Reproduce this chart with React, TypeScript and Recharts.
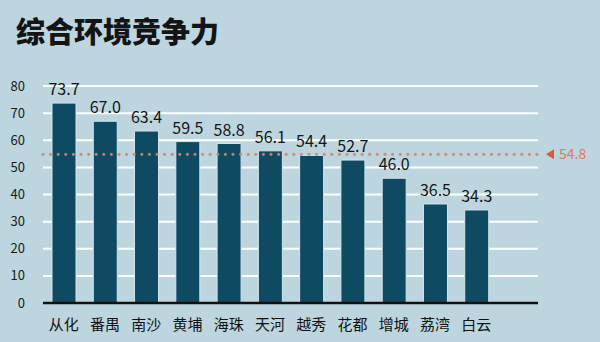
import { BarChart, Bar, XAxis, YAxis, CartesianGrid, ReferenceLine, LabelList } from 'recharts';

const districts = ['从化', '番禺', '南沙', '黄埔', '海珠', '天河', '越秀', '花都', '增城', '荔湾', '白云'];
const scores = [73.7, 67.0, 63.4, 59.5, 58.8, 56.1, 54.4, 52.7, 46.0, 36.5, 34.3];
const yTicks = [0, 10, 20, 30, 40, 50, 60, 70, 80];
const average = 54.8;

const data = districts.map((name, i) => ({ name, score: scores[i] }));

const FONT = '"Noto Sans CJK SC", "Noto Sans", sans-serif';

const AvgLabel = (props: any) => {
  const { viewBox } = props;
  const x = viewBox.x + viewBox.width;
  const y = viewBox.y;
  return (
    <g>
      <polygon points={`${x + 8},${y} ${x + 16},${y - 5} ${x + 16},${y + 5}`} fill="#e2553a" />
      <text x={x + 21} y={y} dy={5} fontSize={14} fill="#e07a5c" fontFamily={FONT}>
        {average}
      </text>
    </g>
  );
};

const App = () => {
  return (
    <div
      style={{
        position: 'absolute',
        left: 0,
        top: 0,
        width: 600,
        height: 342,
        background: '#bcd5df',
        fontFamily: FONT,
      }}
    >
      <div
        style={{
          position: 'absolute',
          left: 16,
          top: 9,
          fontSize: 29,
          fontWeight: 900,
          color: '#141414',
        }}
      >
        综合环境竞争力
      </div>
      <BarChart
        width={600}
        height={342}
        data={data}
        margin={{ top: 86, right: 62, bottom: 9, left: 0 }}
        barCategoryGap={0}
      >
        <CartesianGrid vertical={false} stroke="#ffffff" strokeWidth={2} />
        <XAxis
          dataKey="name"
          height={30}
          axisLine={{ stroke: '#111', strokeWidth: 2.5 }}
          tickLine={false}
          padding={{ left: 0, right: 41 }}
          tick={{ fill: '#111', fontSize: 15, fontFamily: FONT }}
          tickMargin={10}
          interval={0}
        />
        <YAxis
          domain={[0, 80]}
          ticks={yTicks}
          width={43}
          axisLine={false}
          tickLine={false}
          tick={{ fill: '#1a1a1a', fontSize: 13, fontFamily: FONT }}
          tickMargin={12}
        />
        <Bar dataKey="score" fill="#0f4a63" stroke="#d4e5eb" strokeWidth={1} barSize={24} isAnimationActive={false}>
          <LabelList
            dataKey="score"
            position="top"
            offset={8}
            fill="#151515"
            fontSize={16}
            fontFamily={FONT}
            formatter={(v: any) => Number(v).toFixed(1)}
          />
        </Bar>
        <ReferenceLine
          y={average}
          stroke="#d4846a"
          strokeOpacity={0.9}
          strokeWidth={3.2}
          strokeDasharray="0 7.6"
          strokeLinecap="round"
          label={<AvgLabel />}
        />
      </BarChart>
    </div>
  );
};

export default App;
